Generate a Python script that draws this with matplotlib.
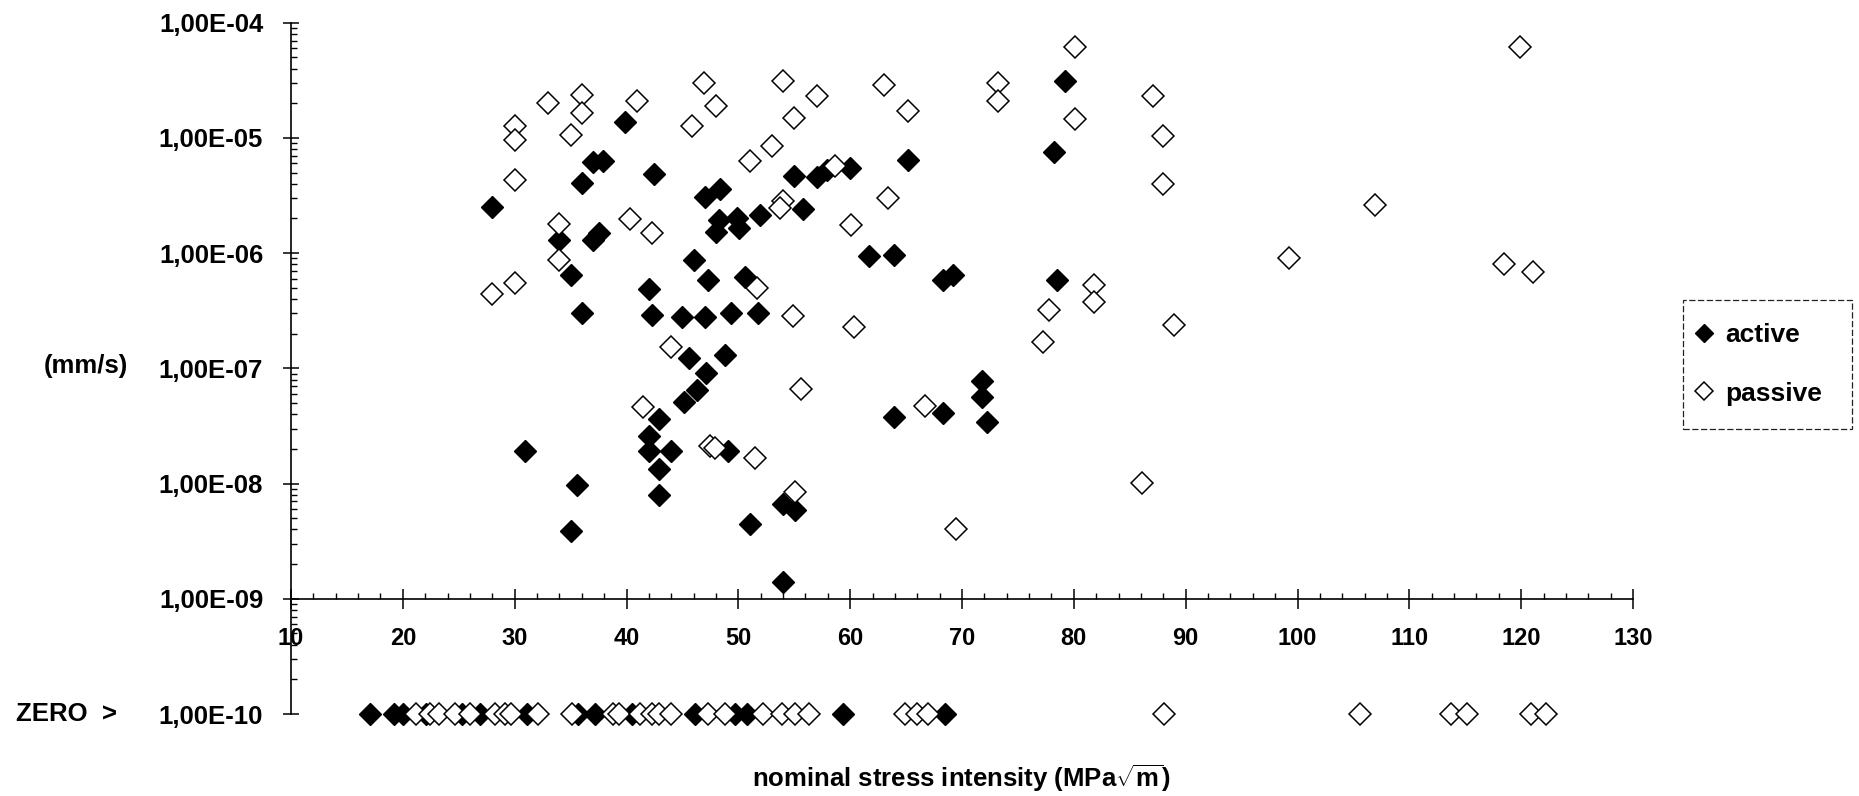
import matplotlib
matplotlib.use('Agg')
import matplotlib.pyplot as plt
import matplotlib.transforms as mtransforms
from matplotlib.patches import Rectangle
from matplotlib.ticker import FixedLocator, FixedFormatter, MultipleLocator, LogLocator, NullFormatter

plt.rcParams['font.family'] = ['Liberation Sans', 'DejaVu Sans']
plt.rcParams['font.weight'] = 'bold'
plt.rcParams['mathtext.fontset'] = 'custom'
plt.rcParams['mathtext.rm'] = 'Liberation Sans:bold'
plt.rcParams['mathtext.bf'] = 'Liberation Sans:bold'
plt.rcParams['mathtext.it'] = 'Liberation Sans:bold'

# ---------------- data ----------------
active_x = [39.9, 37.0, 37.9, 42.5, 36.0, 28.0, 34.0, 37.0, 37.5, 35.0,
            46.0, 47.3, 42.0, 36.0, 42.3, 45.0, 47.0, 49.3, 51.8, 45.6,
            48.8, 47.1, 46.3, 45.1, 47.0, 48.4, 48.3, 48.0, 49.9, 50.1,
            51.9, 55.0, 57.0, 57.9, 60.0, 55.8, 65.2, 79.2, 78.2, 50.6,
            61.7, 63.9, 68.3, 69.2, 78.5, 30.9, 35.6, 35.0, 42.9, 42.0,
            42.0, 44.0, 42.9, 42.9, 49.1, 51.0, 54.0, 55.1, 54.0, 63.9,
            68.3, 71.8, 71.8, 72.2]
active_y = [1.37e-5, 6.2e-6, 6.3e-6, 4.9e-6, 4.1e-6, 2.5e-6, 1.3e-6, 1.3e-6, 1.5e-6, 6.5e-7,
            8.7e-7, 5.9e-7, 4.9e-7, 3.0e-7, 2.9e-7, 2.8e-7, 2.8e-7, 3.05e-7, 3.0e-7, 1.22e-7,
            1.31e-7, 9.1e-8, 6.5e-8, 5.1e-8, 3.1e-6, 3.6e-6, 1.94e-6, 1.52e-6, 2.0e-6, 1.64e-6,
            2.14e-6, 4.7e-6, 4.55e-6, 5.3e-6, 5.45e-6, 2.4e-6, 6.4e-6, 3.1e-5, 7.6e-6, 6.2e-7,
            9.4e-7, 9.6e-7, 5.9e-7, 6.5e-7, 5.8e-7, 1.9e-8, 9.7e-9, 3.9e-9, 3.6e-8, 2.6e-8,
            1.9e-8, 1.9e-8, 1.35e-8, 8.0e-9, 1.9e-8, 4.5e-9, 6.7e-9, 5.9e-9, 1.4e-9, 3.8e-8,
            4.1e-8, 7.8e-8, 5.6e-8, 3.4e-8]

passive_x = [30.0, 30.0, 33.0, 36.0, 36.0, 35.0, 40.9, 46.9, 48.0, 45.9,
             30.0, 34.0, 34.0, 40.3, 42.3, 30.0, 28.0, 44.0, 41.5,
             54.0, 57.0, 55.0, 53.0, 51.0, 63.0, 65.2, 73.2, 73.2, 80.1,
             80.1, 87.1, 88.0, 88.0, 58.6, 54.0, 53.7, 63.4, 60.1, 51.7,
             54.9, 60.3, 81.8, 81.8, 77.8, 77.2, 89.0, 55.6, 66.7,
             119.9, 106.9, 99.2, 118.5, 121.1,
             47.5, 47.9, 51.5, 55.1, 69.5, 86.1]
passive_y = [1.27e-5, 9.6e-6, 2.0e-5, 2.35e-5, 1.66e-5, 1.06e-5, 2.1e-5, 3.0e-5, 1.9e-5, 1.27e-5,
             4.3e-6, 1.8e-6, 8.8e-7, 1.96e-6, 1.5e-6, 5.5e-7, 4.4e-7, 1.52e-7, 4.6e-8,
             3.1e-5, 2.3e-5, 1.5e-5, 8.5e-6, 6.3e-6, 2.9e-5, 1.7e-5, 3.0e-5, 2.1e-5, 6.1e-5,
             1.46e-5, 2.3e-5, 1.04e-5, 4.0e-6, 5.7e-6, 2.85e-6, 2.45e-6, 3.0e-6, 1.75e-6, 5.0e-7,
             2.86e-7, 2.27e-7, 5.3e-7, 3.8e-7, 3.2e-7, 1.7e-7, 2.4e-7, 6.6e-8, 4.7e-8,
             6.1e-5, 2.6e-6, 9.1e-7, 8.0e-7, 6.8e-7,
             2.1e-8, 2.05e-8, 1.67e-8, 8.5e-9, 4.0e-9, 1.02e-8]

# measurements with zero rate, plotted on the "ZERO" row
zero_level = 1e-10
zero_active_x = [17.1, 19.2, 20.0, 22.1, 25.3, 26.9, 31.1, 35.7, 37.2, 40.5,
                 46.1, 49.7, 50.8, 59.4, 68.5]
zero_passive_x = [21.2, 22.4, 23.2, 24.7, 26.0, 28.2, 29.1, 29.7, 32.1, 35.1,
                  38.8, 39.3, 41.2, 42.3, 42.9, 44.0, 47.3, 48.8, 52.2, 53.9,
                  55.1, 56.3, 64.9, 66.0, 67.0, 88.1, 105.6, 113.7, 115.2, 120.9,
                  122.2]

x_ticks = [10, 20, 30, 40, 50, 60, 70, 80, 90, 100, 110, 120, 130]
y_ticks = [1e-10, 1e-9, 1e-8, 1e-7, 1e-6, 1e-5, 1e-4]
y_tick_labels = ['1,00E-10', '1,00E-09', '1,00E-08', '1,00E-07',
                 '1,00E-06', '1,00E-05', '1,00E-04']
series_labels = ['active', 'passive']

# ---------------- figure ----------------
W, H = 1859, 796
fig = plt.figure(figsize=(W / 100, H / 100), dpi=100)
fig.patch.set_facecolor('white')
left_px, right_px, top_px, bot_px = 291, 1633, 22.7, 714
ax = fig.add_axes([left_px / W, 1 - bot_px / H, (right_px - left_px) / W, (bot_px - top_px) / H])

ax.set_yscale('log')
ax.set_xlim(10, 130)
ax.set_ylim(1e-10, 1e-4)

for s in ['top', 'right']:
    ax.spines[s].set_visible(False)
ax.spines['bottom'].set_position(('data', 1e-9))
for s in ['left', 'bottom']:
    ax.spines[s].set_linewidth(1.2)
    ax.spines[s].set_color('black')

ax.xaxis.set_major_locator(FixedLocator(x_ticks))
ax.xaxis.set_minor_locator(MultipleLocator(2))
ax.yaxis.set_major_locator(FixedLocator(y_ticks))
ax.yaxis.set_major_formatter(FixedFormatter(y_tick_labels))
ax.yaxis.set_minor_locator(LogLocator(base=10, subs=[2, 3, 4, 5, 6, 7, 8, 9], numticks=20))
ax.yaxis.set_minor_formatter(NullFormatter())

ax.tick_params(axis='both', which='major', direction='inout', width=1.1, colors='black')
ax.tick_params(axis='x', which='major', length=14, pad=13, labelsize=17)
ax.tick_params(axis='y', which='major', length=12, pad=14, labelsize=18.5)
ax.tick_params(axis='both', which='minor', direction='in', length=4, width=1.0)
for lab in ax.get_xticklabels() + ax.get_yticklabels():
    lab.set_fontweight('bold')

mk = dict(marker='D', markersize=11, linestyle='none', clip_on=False)
act_line, = ax.plot(active_x + zero_active_x,
                    active_y + [zero_level] * len(zero_active_x),
                    markerfacecolor='black', markeredgecolor='black', markeredgewidth=1.0,
                    zorder=3, label=series_labels[0], **mk)
pas_line, = ax.plot(passive_x + zero_passive_x,
                    passive_y + [zero_level] * len(zero_passive_x),
                    markerfacecolor='white', markeredgecolor='black', markeredgewidth=1.1,
                    zorder=4, label=series_labels[1], **mk)

ax.set_xlabel(r'nominal stress intensity (MPa$\sqrt{\mathbf{m}}$)', fontsize=18.5,
              fontweight='bold')
ax.xaxis.set_label_coords(0.5, (bot_px - 778) / (bot_px - top_px), transform=ax.transAxes)
ax.xaxis.label.set_va('center')

ax.set_ylabel('(mm/s)', rotation=0, fontsize=18.5, fontweight='bold', ha='center', va='center')
ax.yaxis.set_label_coords((85.5 - left_px) / (right_px - left_px), (bot_px - 366) / (bot_px - top_px))

trans = mtransforms.blended_transform_factory(ax.transAxes, ax.transData)
ax.text((117 - left_px) / (right_px - left_px), zero_level, 'ZERO  >', transform=trans,
        ha='right', va='center', fontsize=18.5, fontweight='bold')

# legend: entries without frame, plus a thin box drawn around them
leg_fs = 19
leg = ax.legend(handles=[act_line, pas_line], loc='center left',
                bbox_to_anchor=(1693.5 / W, 1 - 364.5 / H), bbox_transform=fig.transFigure,
                borderaxespad=0, borderpad=0, fontsize=leg_fs, frameon=False,
                handlelength=0.8, handletextpad=0.4, labelspacing=1.3,
                markerscale=0.85)
for t in leg.get_texts():
    t.set_fontweight('bold')
box = Rectangle((1683 / W, 1 - 429 / H), (1852 - 1683) / W, (429 - 300) / H,
                transform=fig.transFigure, fill=False, edgecolor='#222222',
                linewidth=0.9, linestyle=(0, (5, 2)))
fig.patches.append(box)

fig.savefig('out.png', dpi=100, facecolor='white')
